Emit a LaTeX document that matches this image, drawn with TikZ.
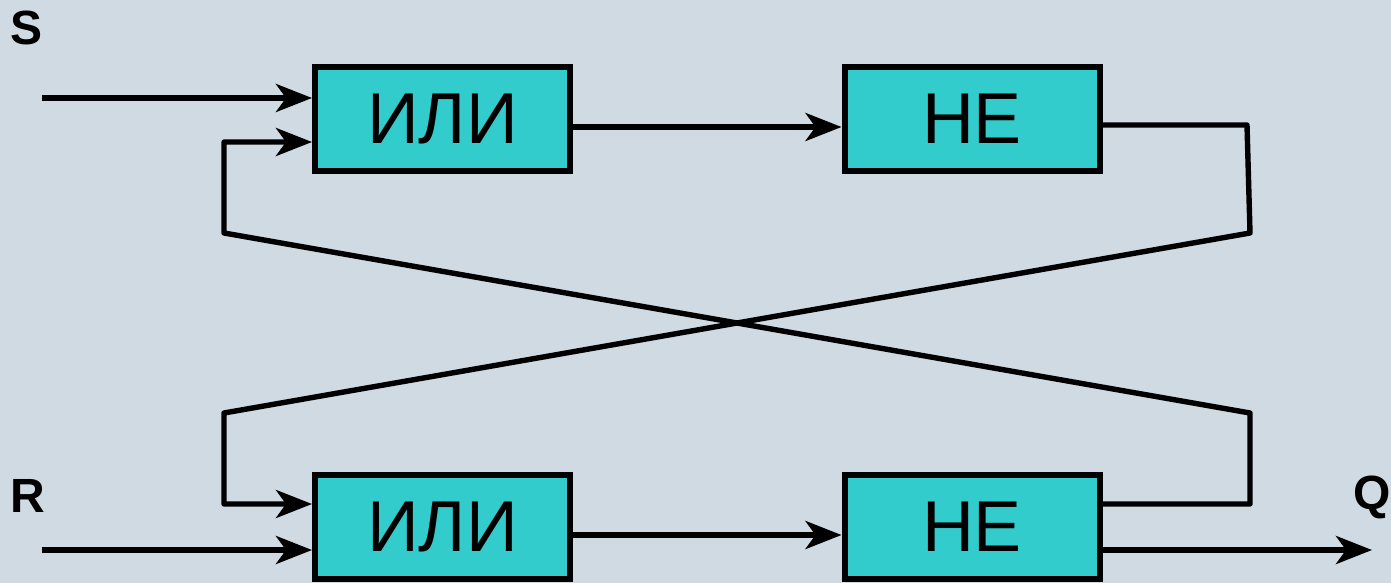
\documentclass[tikz,border=0pt]{standalone}
\usepackage{fontspec}
\setmainfont{Liberation Sans}
\usetikzlibrary{arrows.meta}
\definecolor{bg}{HTML}{D0DAE3}
\definecolor{boxfill}{HTML}{33CCCC}
\begin{document}
\begin{tikzpicture}[x=0.5pt,y=-0.5pt,
  gate/.style={draw=black, line width=3pt, fill=boxfill, minimum width=127.5pt, minimum height=52pt, inner sep=0pt, font=\fontsize{36}{40}\selectfont},
  wire/.style={line width=2.7pt, line join=round},
  arr/.style={wire, -{Stealth[length=18pt,width=14pt,inset=5pt]}},
  lbl/.style={font=\bfseries\fontsize{24}{28}\selectfont, inner sep=0pt}]
\fill[bg] (0,0) rectangle (1391,583);
\useasboundingbox (0,0) rectangle (1391,583);
\node[gate] (ili1) at (442.5,119) {ИЛИ};
\node[gate] (ne1) at (972,119) {НЕ};
\node[gate] (ili2) at (442.5,527) {ИЛИ};
\node[gate] (ne2) at (972,527) {НЕ};
\node[lbl] (S) at (27,28) {S};
\node[lbl] (R) at (28,496) {R};
\node[lbl] (Q) at (1372,497) {Q};
\coordinate (sIn) at (42,98);
\coordinate (rIn) at (42,550);
\coordinate (qOut) at (1372,550);
\coordinate (fbTop) at (224,142);
\coordinate (fbBot) at (224,504);
\coordinate (tr1) at (1247,125);
\coordinate (tr2) at (1250,233);
\coordinate (br1) at (1250,504);
\coordinate (br2) at (1250,413);
\coordinate (tl) at (224,233);
\coordinate (bl) at (224,413);
% inputs
\draw[arr] (sIn) -- (ili1.west |- sIn);
\draw[arr] (rIn) -- (ili2.west |- rIn);
% gate to gate
\draw[arr] (ili1.east |- 0,127) -- (ne1.west |- 0,127);
\draw[arr] (ili2.east |- 0,535) -- (ne2.west |- 0,535);
% output
\draw[arr] (ne2.east |- qOut) -- (qOut);
% cross feedback
\draw[arr] (ne1.east |- tr1) -- (tr1) -- (tr2) -- (bl) -- (fbBot) -- (ili2.west |- fbBot);
\draw[arr] (ne2.east |- br1) -- (br1) -- (br2) -- (tl) -- (fbTop) -- (ili1.west |- fbTop);
\end{tikzpicture}
\end{document}
